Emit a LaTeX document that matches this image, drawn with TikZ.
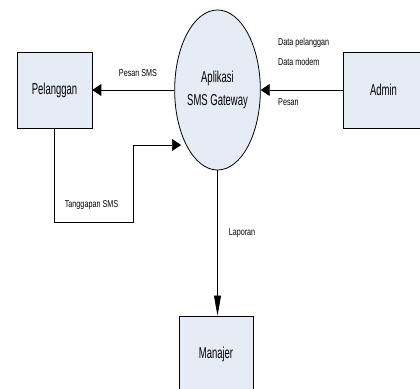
\documentclass[tikz,border=0pt]{standalone}
\usepackage{fontspec}
\setmainfont{Liberation Sans}
\usetikzlibrary{shapes.geometric,arrows.meta}
\definecolor{boxfill}{RGB}{230,236,246}
\newcommand\condbig[1]{\scalebox{0.6}[1]{#1}}
\newcommand\condsmall[1]{\scalebox{0.72}[1]{#1}}
\begin{document}
\begin{tikzpicture}[x=1pt,y=-1pt,
  entity/.style={draw=black, line width=0.8pt, fill=boxfill, inner sep=0pt,
    font=\fontsize{15.8}{23.7}\selectfont},
  proc/.style={ellipse, draw=black, line width=0.8pt, fill=boxfill,
    minimum width=85pt, minimum height=160pt, inner sep=0pt, align=center,
    font=\fontsize{15.8}{23.7}\selectfont},
  lbl/.style={inner sep=0pt, font=\fontsize{10}{12}\selectfont},
  harrow/.style={-{Triangle[length=9pt,width=12pt]}, line width=0.9pt},
  varrow/.style={-{Triangle[length=20pt,width=7pt]}, line width=0.6pt}]
\clip (0,0) rectangle (420,388);
\fill[white] (0,0) rectangle (420,388);
\node[entity, minimum width=75pt, minimum height=76pt] (pel) at (54.5,90) {\condbig{Pelanggan}};
\node[entity, minimum width=81pt, minimum height=76pt] (adm) at (383.5,90) {\condbig{Admin}};
\node[entity, minimum width=74pt, minimum height=76pt] (man) at (216,354) {\condbig{Manajer}};
\node[proc] (ell) at (217.5,90) {\condbig{Aplikasi}\\\condbig{SMS Gateway}};
% connectors
\draw[harrow] (ell) -- (pel);
\draw[harrow] (adm) -- (ell);
\draw[varrow] (ell.south) -- (ell.south |- man.north);
\coordinate (t1) at (133,222);
\coordinate (t2) at (181,145);
\draw[harrow, line width=0.7pt] (pel.south) |- (t1) |- (t2);
% labels
\node[lbl, anchor=base] (lpesansms) at (138,76) {\condsmall{Pesan SMS}};
\node[lbl, anchor=base west] (ldatapel) at (278,45.7) {\condsmall{Data pelanggan}};
\node[lbl, anchor=base west] (ldatamod) at (278,65) {\condsmall{Data modem}};
\node[lbl, anchor=base west] (lpesan) at (278,105) {\condsmall{Pesan}};
\node[lbl, anchor=base] (ltangg) at (91.5,207) {\condsmall{Tanggapan SMS}};
\node[lbl, anchor=base] (llap) at (242,235) {\condsmall{Laporan}};
\end{tikzpicture}
\end{document}
